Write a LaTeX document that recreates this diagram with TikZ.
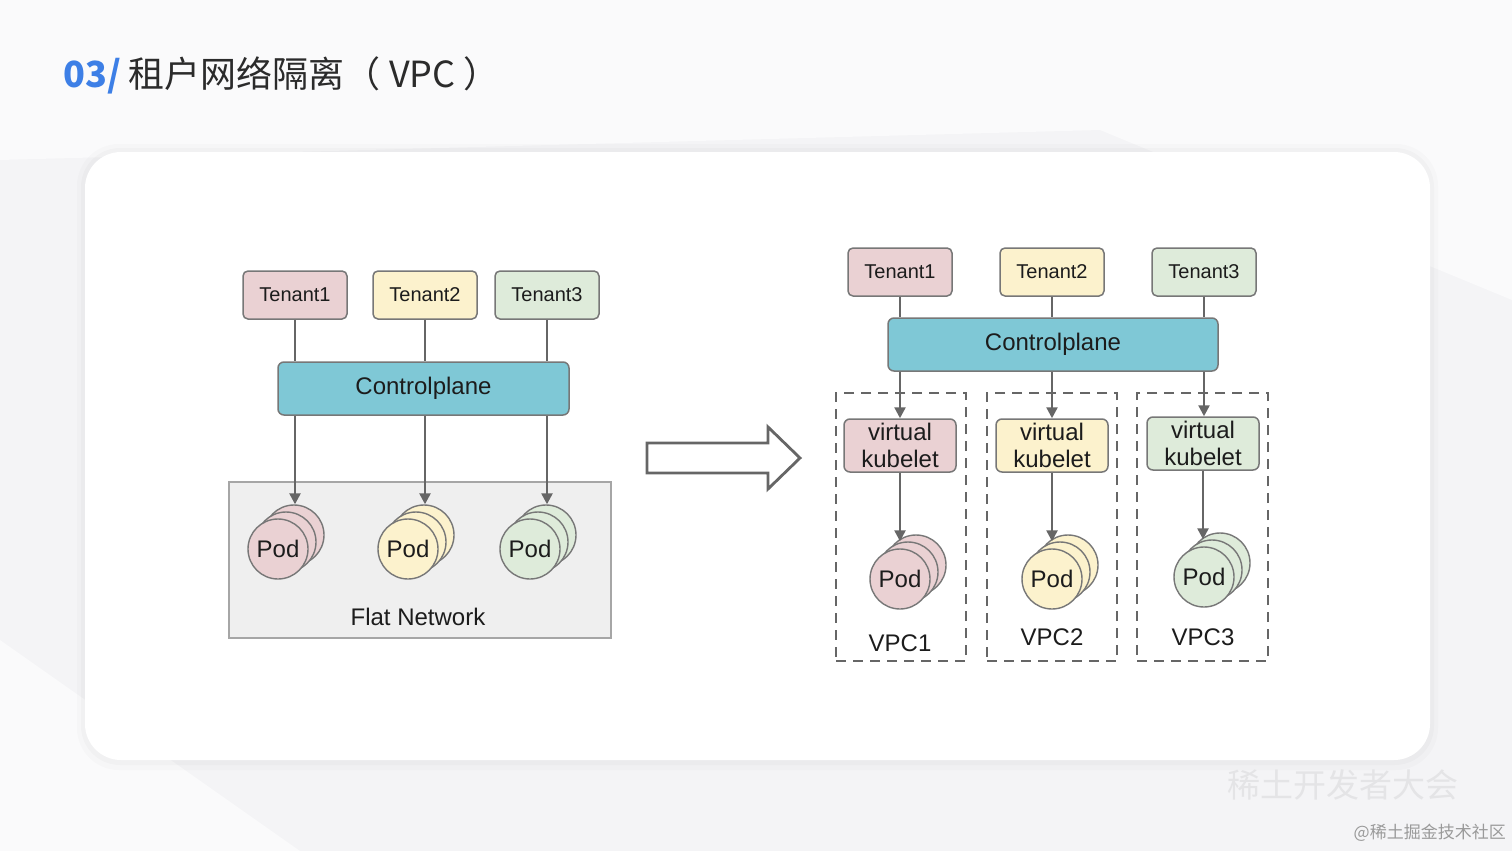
\documentclass[tikz,border=0pt]{standalone}
\usepackage{fontspec}
\setmainfont{Liberation Sans}
\newfontfamily\cjk{Noto Sans CJK SC}
\usetikzlibrary{arrows.meta}
\definecolor{pinkf}{HTML}{EAD1D3}
\definecolor{yelf}{HTML}{FCF2CD}
\definecolor{grnf}{HTML}{DEEBDA}
\definecolor{cpf}{HTML}{7FC8D6}
\definecolor{edgec}{HTML}{666666}
\definecolor{boxedge}{HTML}{777777}
\definecolor{flatf}{HTML}{EFEFEF}
\definecolor{titleblue}{HTML}{3D7FE6}
\definecolor{titlegray}{HTML}{2B2B2B}
\definecolor{txt}{HTML}{1C1C1C}
\definecolor{pagebg}{HTML}{F4F4F6}
\definecolor{pagelight}{HTML}{FAFAFB}
\definecolor{wm}{HTML}{E4E4E6}
\definecolor{wmtext}{HTML}{9A9A9A}
\begin{document}
\begin{tikzpicture}[x=1pt,y=-1pt,
  tenant/.style={draw=boxedge, line width=1.5pt, rounded corners=5pt, minimum width=104pt, minimum height=48pt, inner sep=0pt, text=txt, font=\fontsize{20}{24}\selectfont},
  cpbox/.style={draw=boxedge, line width=1.5pt, fill=cpf, rounded corners=6pt, minimum height=53pt, inner sep=0pt, text=txt, font=\fontsize{24}{28}\selectfont},
  kub/.style={draw=boxedge, line width=1.5pt, rounded corners=6pt, minimum width=112pt, minimum height=53pt, inner sep=0pt, align=center, text=txt, font=\fontsize{24}{27.5}\selectfont},
  pod/.style={circle, draw=boxedge, line width=1.4pt, minimum size=60pt, inner sep=0pt, text=txt, font=\fontsize{24}{28}\selectfont},
  vpc/.style={draw=edgec, line width=2.8pt, dash pattern=on 10pt off 7pt, minimum width=130pt, minimum height=268pt, inner sep=0pt},
  lbl/.style={inner sep=0pt, text=txt, font=\fontsize{24}{28}\selectfont},
  link/.style={draw=edgec, line width=2.4pt},
  arr/.style={link, -{Triangle[length=11pt, width=11pt]}}
]
% page and card
\fill[pagebg] (0,0) rectangle (1512,851);
\useasboundingbox (0,0) rectangle (1512,851);
\fill[pagelight] (0,0) -- (1512,0) -- (1512,300) -- (1100,130) -- (0,160) -- cycle;
\fill[pagelight] (0,640) -- (300,851) -- (0,851) -- cycle;
\fill[black, opacity=0.015, rounded corners=42pt] (77,144) rectangle (1438,770);
\fill[black, opacity=0.02, rounded corners=39pt] (81,148) rectangle (1434,765);
\fill[white, rounded corners=36pt] (85,152) rectangle (1430,760);

% title
\node[anchor=base west, inner sep=0pt] (title) at (63,88)
  {\cjk\fontsize{36}{40}\selectfont\textcolor{titleblue}{\bfseries 03/} \textcolor{titlegray}{租户网络隔离（ VPC ）}};

% ---------- left diagram ----------
\node[draw=gray!70, line width=1.2pt, fill=flatf, minimum width=382pt, minimum height=156pt, inner sep=0pt] (flat) at (420,560) {};
\node[lbl] (flatlbl) at (418,617) {Flat Network};

\node[tenant, fill=pinkf] (lt1) at (295,295) {Tenant1};
\node[tenant, fill=yelf]  (lt2) at (425,295) {Tenant2};
\node[tenant, fill=grnf]  (lt3) at (547,295) {Tenant3};
\node[cpbox, minimum width=291pt] (lcp) at (423.5,388.5) {Controlplane};

\foreach \n/\x/\c in {1/278/pinkf, 2/408/yelf, 3/530/grnf}{
  \node[pod, fill=\c] (lp\n c) at (\x+16,535) {};
  \node[pod, fill=\c] (lp\n b) at (\x+8,542) {};
  \node[pod, fill=\c] (lp\n a) at (\x,549) {Pod};
}
\foreach \n in {1,2,3}{
  \draw[link] (lt\n.south) -- (lt\n.south |- lcp.north);
  \draw[arr] (lt\n.south |- lcp.south) -- (lt\n.south |- lp\n c.north);
}

% ---------- big arrow ----------
\draw[draw=edgec, line width=2.8pt, fill=white, line join=miter]
  (647,443) -- (768,443) -- (768,427) -- (800,458) -- (768,489) -- (768,473) -- (647,473) -- cycle;

% ---------- right diagram ----------
\node[vpc] (v1) at (901,527) {};
\node[vpc] (v2) at (1052,527) {};
\node[vpc, minimum width=131pt] (v3) at (1202.5,527) {};

\node[tenant, fill=pinkf] (rt1) at (900,272) {Tenant1};
\node[tenant, fill=yelf]  (rt2) at (1052,272) {Tenant2};
\node[tenant, fill=grnf]  (rt3) at (1204,272) {Tenant3};
\node[cpbox, minimum width=330pt] (rcp) at (1053,344.5) {Controlplane};

\node[kub, fill=pinkf] (k1) at (900,445.5) {virtual\\kubelet};
\node[kub, fill=yelf]  (k2) at (1052,445.5) {virtual\\kubelet};
\node[kub, fill=grnf]  (k3) at (1203,443.5) {virtual\\kubelet};

\foreach \n/\x/\y/\c in {1/900/579/pinkf, 2/1052/579/yelf, 3/1204/577/grnf}{
  \node[pod, fill=\c] (rp\n c) at (\x+16,\y-14) {};
  \node[pod, fill=\c] (rp\n b) at (\x+8,\y-7) {};
  \node[pod, fill=\c] (rp\n a) at (\x,\y) {Pod};
}
\foreach \n in {1,2,3}{
  \draw[link] (rt\n.south) -- (rt\n.south |- rcp.north);
  \draw[arr] (rt\n.south |- rcp.south) -- (rt\n.south |- k\n.north);
  \draw[arr] (k\n.south) -- (k\n.south |- rp\n b.north);
}
\node[lbl] (vl1) at (900,643) {VPC1};
\node[lbl] (vl2) at (1052,637) {VPC2};
\node[lbl] (vl3) at (1203,637) {VPC3};

% ---------- watermark ----------
\node[inner sep=0pt, text=wm] (wm1) at (1343,785) {\cjk\fontsize{33}{36}\selectfont 稀土开发者大会};
\node[anchor=east, inner sep=0pt, text=wmtext] (wm2) at (1506,833) {\cjk\fontsize{17}{20}\selectfont @稀土掘金技术社区};
\end{tikzpicture}
\end{document}
